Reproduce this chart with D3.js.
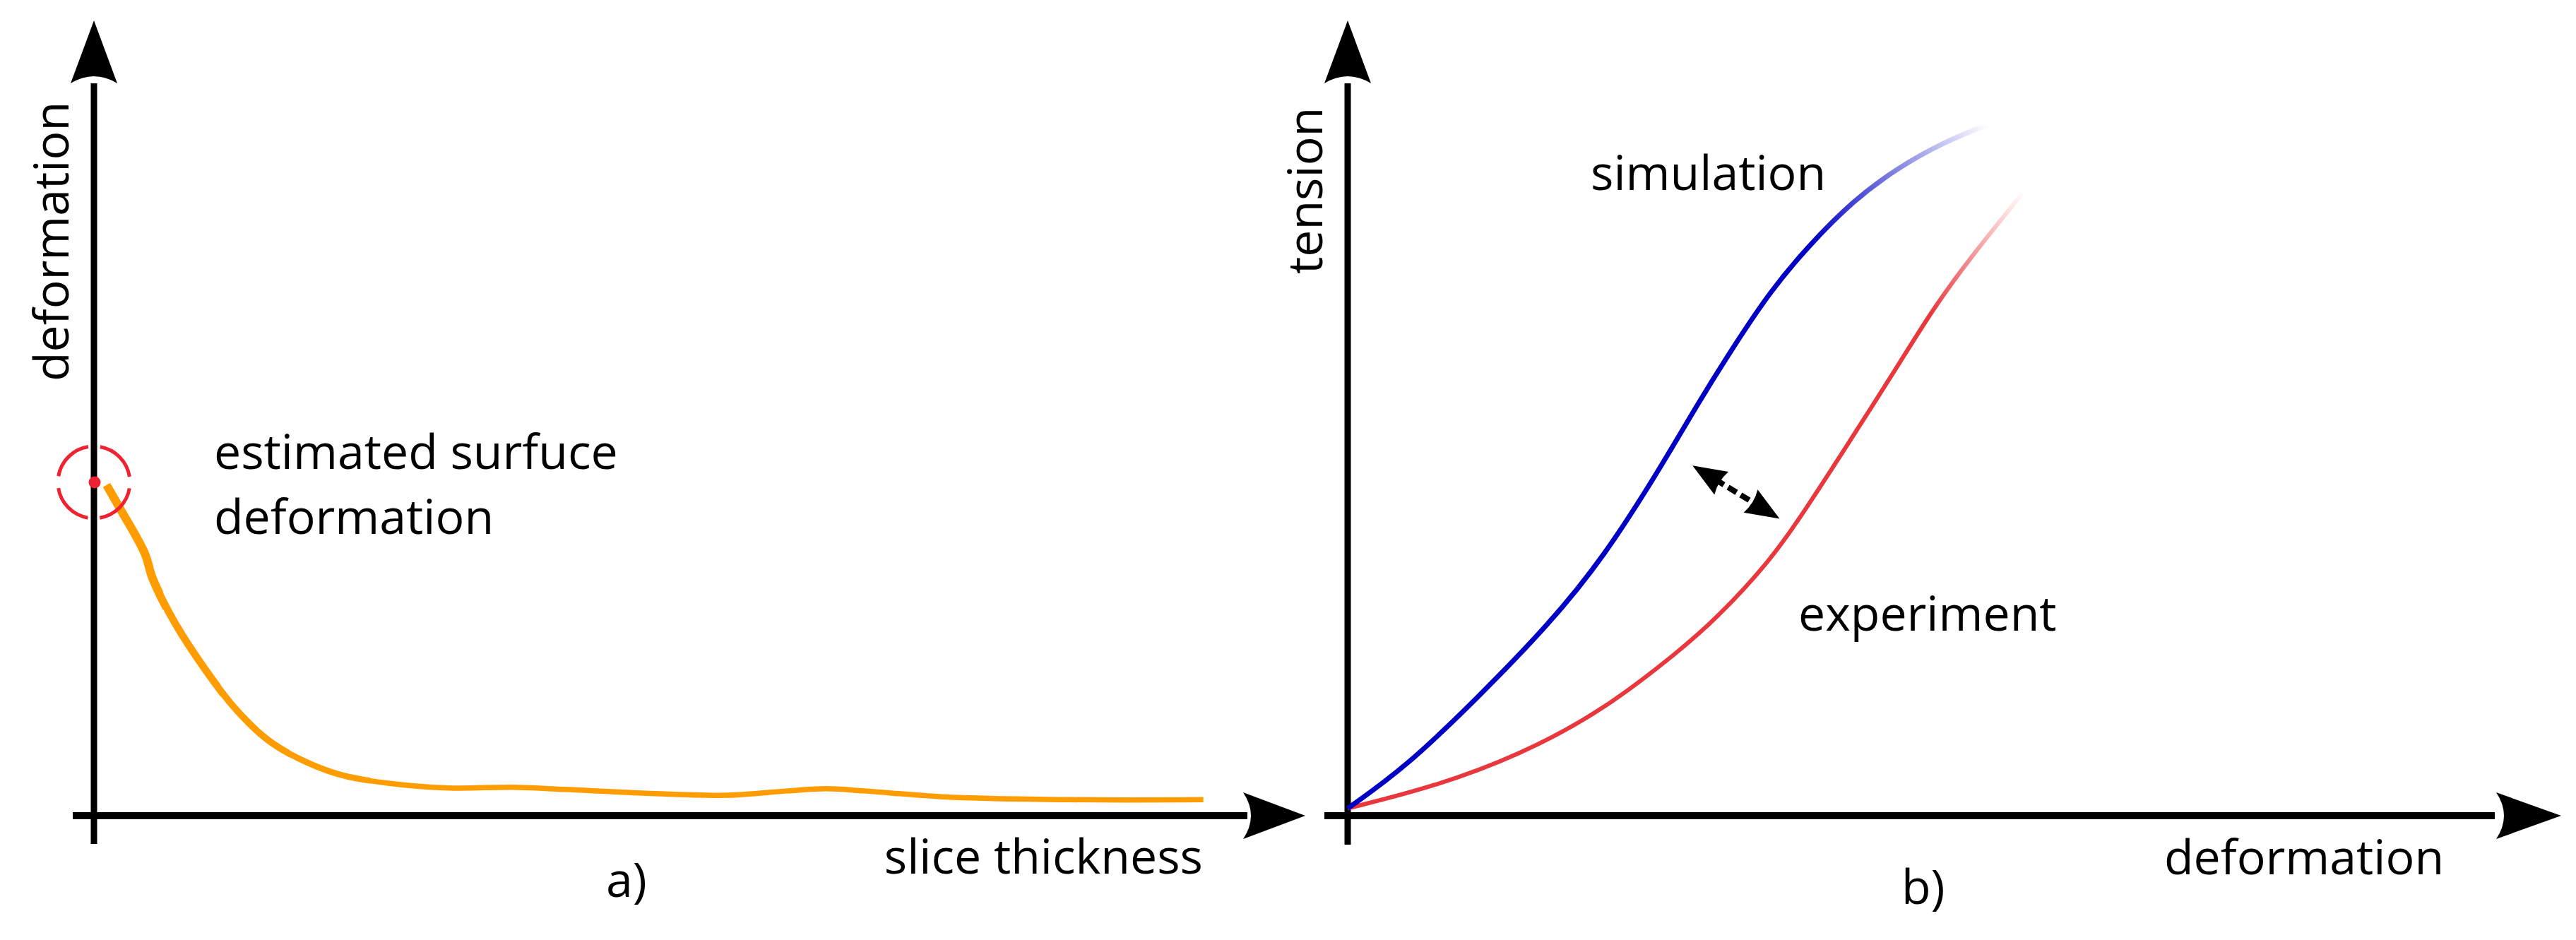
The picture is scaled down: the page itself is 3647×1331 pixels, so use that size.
<!DOCTYPE html>
<html>
<head>
<meta charset="utf-8">
<script src="https://cdn.jsdelivr.net/npm/d3@7"></script>
<style>
  html, body { margin: 0; padding: 0; background: #fff; }
  svg { display: block; }
  text { font-family: "Open Sans", sans-serif; font-size: 68px; fill: #000; }
</style>
</head>
<body>
<svg id="chart" width="3647" height="1331"></svg>
<script>
/* Two schematic panels, no ticks: a) deformation vs slice thickness,
   b) tension vs deformation (simulation vs experiment).
   Values are in arbitrary 0..100 units. */

// ---- panel a data ----
const sliceX   = [1.1, 2.3, 4.4, 5.1, 7.0, 9.5, 12.2, 15.0, 17.7, 21.2, 25.3, 30.8, 36.4, 40.9, 47.6, 55.0, 60.2, 63.6, 66.9, 73.6, 84.7, 96.3];
const sliceDef = [45.3, 42.0, 36.0, 32.5, 26.5, 20.4, 14.8, 10.5, 7.9, 5.7, 4.5, 3.8, 3.9, 3.6, 3.1, 2.8, 3.4, 3.7, 3.4, 2.6, 2.2, 2.2];
const surfacePoint = [0, 45.7];

// ---- panel b data ----
const simX = [0, 5.1, 11.3, 17.5, 22.4, 27.5, 30.6, 33.8, 36.9, 40.1, 44.1, 48.0, 52.0, 55.8];
const simY = [1.0, 6.7, 16.1, 26.1, 35.5, 48.2, 56.6, 64.6, 71.9, 77.9, 84.3, 88.8, 92.3, 94.7];
const expX = [0, 7.6, 15.0, 22.4, 29.1, 31.9, 36.9, 40.1, 43.2, 48.0, 51.1, 54.3, 58.9];
const expY = [1.0, 4.0, 8.3, 14.5, 22.8, 26.6, 34.9, 42.3, 49.8, 61.6, 69.5, 76.4, 85.3];
const gapArrow = [[30.1, 48.0], [37.7, 40.7]];   // double arrow between curves
const simFade = [40.6, 55.8];                     // x range where the line fades out
const expFade = [50.8, 59.2];

// ---- labels ----
const labelsA = { y: "deformation", x: "slice thickness", note: ["estimated surfuce", "deformation"], tag: "a)" };
const labelsB = { y: "tension", x: "deformation", sim: "simulation", exp: "experiment", tag: "b)" };

const svg = d3.select("#chart");
const defs = svg.append("defs");

const xA = d3.scaleLinear([0, 100], [133, 1764]);
const yA = d3.scaleLinear([0, 100], [1155, 122]);
const xB = d3.scaleLinear([0, 100], [1908, 3530]);
const yB = d3.scaleLinear([0, 100], [1155, 122]);

// Arrowhead with a slightly concave back, tip at `tip`, pointing along `dir`.
function arrowHead(g, tip, dir, len, wid, notch) {
  const [dx, dy] = dir, nx = -dy, ny = dx;
  const bx = tip[0] - dx * len, by = tip[1] - dy * len;
  const p = d3.path();
  p.moveTo(tip[0], tip[1]);
  p.lineTo(bx + nx * wid / 2, by + ny * wid / 2);
  p.quadraticCurveTo(bx + dx * notch, by + dy * notch, bx - nx * wid / 2, by - ny * wid / 2);
  p.closePath();
  g.append("path").attr("d", p.toString()).attr("fill", "#000");
}

function axes(g, x, y, opt) {
  const [x0, x1] = x.range(), [y0, y1] = y.range();
  // vertical axis (runs a little below the origin)
  g.append("line").attr("x1", x0).attr("x2", x0)
    .attr("y1", y0 + opt.below).attr("y2", y1 - 4)
    .attr("stroke", "#000").attr("stroke-width", 9);
  arrowHead(g, [x0, y1 - 93], [0, -1], 89, 66, 20);
  // horizontal axis (starts a little left of the origin)
  g.append("line").attr("x1", x0 - opt.left).attr("x2", x1 + 2)
    .attr("y1", y0).attr("y2", y0)
    .attr("stroke", "#000").attr("stroke-width", 10);
  arrowHead(g, [x1 + opt.tip, y0], [1, 0], opt.tipLen, 66, 22);
}

// ================= panel a =================
const gA = svg.append("g");
axes(gA, xA, yA, { below: 40, left: 30, tip: 84, tipLen: 88 });

const lineA = d3.line().x((d) => xA(d[0])).y((d) => yA(d[1])).curve(d3.curveCatmullRom.alpha(0.5));
const sliceData = sliceX.map((v, i) => [v, sliceDef[i]]);

// the hand-drawn stroke thins out as it drops: stack clipped copies
const widthSteps = [[100, 7.5], [24, 8.5], [17, 9.5], [11, 10.5], [6, 12]];
widthSteps.forEach(([upTo, w], i) => {
  defs.append("clipPath").attr("id", "orange-clip-" + i)
    .append("rect").attr("x", 0).attr("y", 0).attr("width", xA(upTo)).attr("height", 1331);
  gA.append("path").attr("d", lineA(sliceData)).attr("clip-path", `url(#orange-clip-${i})`)
    .attr("fill", "none").attr("stroke", "#ff9d00").attr("stroke-width", w)
    .attr("stroke-linejoin", "round");
});

// dashed target circle + dot at the estimated surface value
const cr = 51, circ = 2 * Math.PI * cr, seg = circ / 4, gap = 17;
gA.append("circle").attr("cx", xA(surfacePoint[0])).attr("cy", yA(surfacePoint[1])).attr("r", cr)
  .attr("fill", "none").attr("stroke", "#ee2230").attr("stroke-width", 5)
  .attr("stroke-dasharray", `${seg - gap} ${gap}`).attr("stroke-dashoffset", seg - gap / 2);
gA.append("circle").attr("cx", xA(surfacePoint[0]) + 1).attr("cy", yA(surfacePoint[1])).attr("r", 8.5)
  .attr("fill", "#ee2230");

gA.append("text").attr("transform", "translate(97,540) rotate(-90)").text(labelsA.y);
gA.append("text").attr("x", 303).attr("y", 664).text(labelsA.note[0]);
gA.append("text").attr("x", 303).attr("y", 756).text(labelsA.note[1]);
gA.append("text").attr("x", 1703).attr("y", 1237).attr("text-anchor", "end").text(labelsA.x);
gA.append("text").attr("x", 858).attr("y", 1270).text(labelsA.tag);

// ================= panel b =================
const gB = svg.append("g");
axes(gB, xB, yB, { below: 41, left: 33, tip: 96, tipLen: 92 });

const lineB = d3.line().x((d) => xB(d[0])).y((d) => yB(d[1])).curve(d3.curveBasis);
const simData = simX.map((v, i) => [v, simY[i]]);
const expData = expX.map((v, i) => [v, expY[i]]);

function fadeGradient(id, color, data, fade) {
  const at = (xv) => {
    const i = d3.bisector((d) => d[0]).left(data, xv);
    const a = data[Math.max(0, i - 1)], b = data[Math.min(data.length - 1, i)];
    const t = b[0] === a[0] ? 0 : (xv - a[0]) / (b[0] - a[0]);
    return [xB(xv), yB(a[1] + t * (b[1] - a[1]))];
  };
  const p0 = at(fade[0]), p1 = at(fade[1]);
  const lg = defs.append("linearGradient").attr("id", id).attr("gradientUnits", "userSpaceOnUse")
    .attr("x1", p0[0]).attr("y1", p0[1]).attr("x2", p1[0]).attr("y2", p1[1]);
  lg.append("stop").attr("offset", 0).attr("stop-color", color).attr("stop-opacity", 1);
  lg.append("stop").attr("offset", 1).attr("stop-color", color).attr("stop-opacity", 0);
}
fadeGradient("sim-fade", "#0000c4", simData, simFade);
fadeGradient("exp-fade", "#e8383d", expData, expFade);

gB.append("path").attr("d", lineB(expData))
  .attr("fill", "none").attr("stroke", "url(#exp-fade)").attr("stroke-width", 6);
gB.append("path").attr("d", lineB(simData))
  .attr("fill", "none").attr("stroke", "url(#sim-fade)").attr("stroke-width", 7);

// double-headed arrow marking the gap between the two curves
{
  const p1 = [xB(gapArrow[0][0]), yB(gapArrow[0][1])];
  const p2 = [xB(gapArrow[1][0]), yB(gapArrow[1][1])];
  const L = Math.hypot(p2[0] - p1[0], p2[1] - p1[1]);
  const u = [(p2[0] - p1[0]) / L, (p2[1] - p1[1]) / L];
  gB.append("line")
    .attr("x1", p1[0] + u[0] * 38).attr("y1", p1[1] + u[1] * 38)
    .attr("x2", p2[0] - u[0] * 38).attr("y2", p2[1] - u[1] * 38)
    .attr("stroke", "#000").attr("stroke-width", 8).attr("stroke-dasharray", "14 7");
  arrowHead(gB, p1, [-u[0], -u[1]], 48, 38, 6);
  arrowHead(gB, p2, u, 48, 38, 6);
}

gB.append("text").attr("transform", "translate(1872,388) rotate(-90)").text(labelsB.y);
gB.append("text").attr("x", 2252).attr("y", 269).text(labelsB.sim);
gB.append("text").attr("x", 2546).attr("y", 893).text(labelsB.exp);
gB.append("text").attr("x", 3064).attr("y", 1238).text(labelsB.x);
gB.append("text").attr("x", 2692).attr("y", 1280).text(labelsB.tag);
</script>
</body>
</html>
